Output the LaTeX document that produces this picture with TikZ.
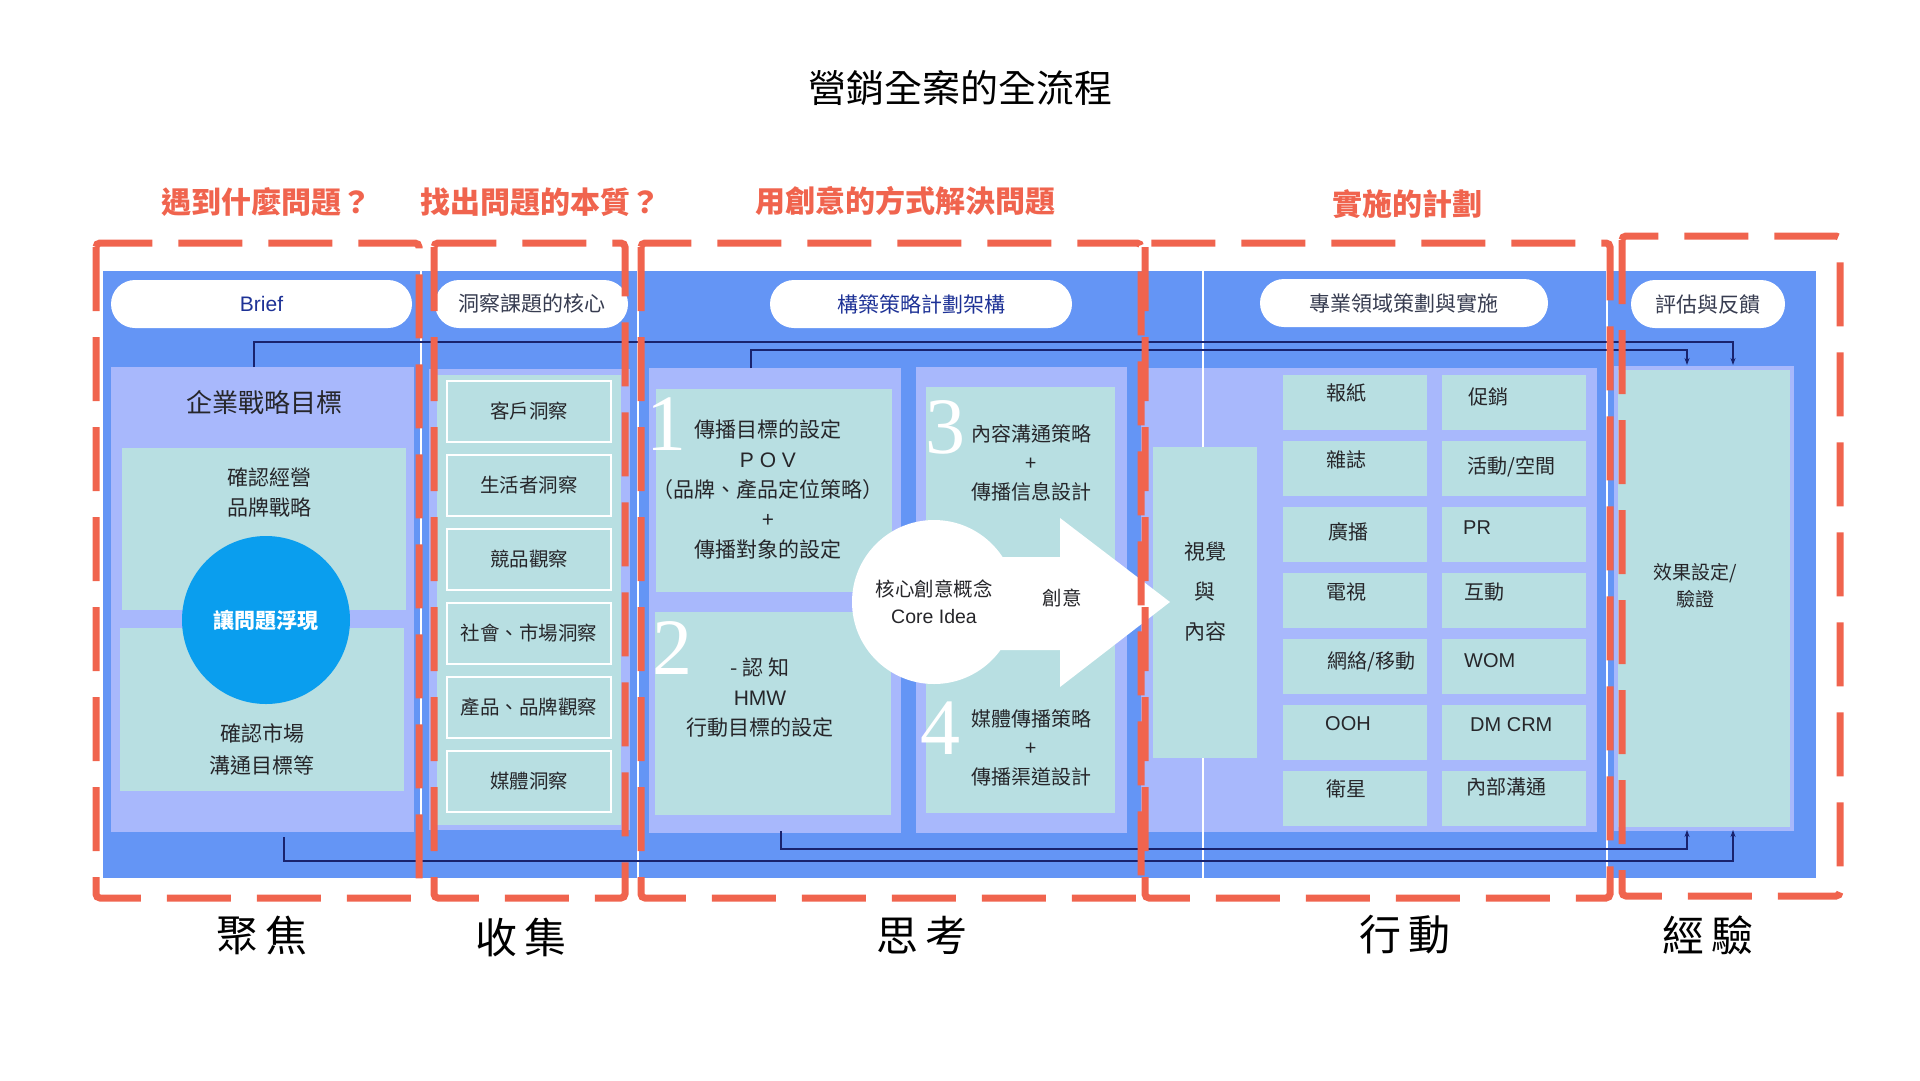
\documentclass[tikz,border=0pt]{standalone}
\usepackage{fontspec}
\setmainfont{Noto Sans CJK TC}
\newfontfamily\arialfont{Liberation Sans}
\newfontfamily\serifnum{Liberation Serif}
\usetikzlibrary{arrows.meta}

\definecolor{bgblue}{RGB}{100,149,245}
\definecolor{lav}{RGB}{168,184,252}
\definecolor{tealfill}{RGB}{184,223,226}
\definecolor{dotblue}{RGB}{10,158,238}
\definecolor{frred}{RGB}{240,100,78}
\definecolor{navy}{RGB}{25,35,110}
\definecolor{ink}{RGB}{38,38,42}
\definecolor{pillblue}{RGB}{30,50,150}
\definecolor{pillgray}{RGB}{55,60,80}

\tikzset{
  blk/.style={inner sep=0pt, outer sep=0pt, anchor=north west},
  panel/.style={blk, fill=lav},
  tealbox/.style={blk, fill=tealfill},
  insight/.style={tealbox, draw=white, line width=2pt, minimum width=164pt, minimum height=61pt,
    text=ink, font=\fontsize{19.5}{24}\selectfont},
  cell/.style={tealbox, minimum width=144pt, minimum height=55pt},
  pill/.style={fill=white, rounded corners=24pt, minimum height=48pt, inner sep=0pt,
    text=pillgray, font=\fontsize{21}{25}\selectfont},
  txt/.style={inner sep=0pt, text=ink, font=\fontsize{21}{30}\selectfont},
  celltxt/.style={txt, anchor=west, font=\fontsize{20}{24}\selectfont},
  bignum/.style={inner sep=0pt, text=white, font=\serifnum\fontsize{80}{80}\selectfont},
  heading/.style={inner sep=0pt, text=frred, font=\bfseries\fontsize{30}{34}\selectfont},
  stage/.style={inner sep=0pt, text=black, font=\fontsize{42}{46}\selectfont},
  redframe/.style={draw=frred, line width=7pt, dash pattern=on 64pt off 26pt, rounded corners=4pt},
  link/.style={draw=navy, line width=1.3pt, ->},
}

\begin{document}
\begin{tikzpicture}[x=1pt, y=-1pt, >={Stealth[length=7pt,width=5pt]}]
\useasboundingbox (0,0) rectangle (1920,1080);

% title
\node[inner sep=0pt, font=\fontsize{38}{42}\selectfont] (title) at (960,88) {營銷全案的全流程};

% blue ground
\fill[bgblue] (103,271) rectangle (1816,878);

% pills
\node[pill, minimum width=301pt, text=pillblue, font=\arialfont\fontsize{21}{25}\selectfont] (brief) at (261.5,304) {Brief};
\node[pill, minimum width=193pt] (pinsight) at (531.5,304) {洞察課題的核心};
\node[pill, minimum width=302pt, text=pillblue] (pframe) at (921,304) {構築策略計劃架構};
\node[pill, minimum width=288pt] (pexec) at (1404,303) {專業領域策劃與實施};
\node[pill, minimum width=154pt] (peval) at (1708,304) {評估與反饋};

% panels
\node[panel, minimum width=303pt, minimum height=465pt] (lav1) at (111,367) {};
\node[panel, minimum width=201pt, minimum height=461pt] (lav2) at (429,369) {};
\node[panel, minimum width=252pt, minimum height=465pt] (lav3a) at (649,368) {};
\node[panel, minimum width=211pt, minimum height=466pt] (lav3b) at (916,367) {};
\node[panel, minimum width=456pt, minimum height=464pt] (lav4) at (1141,368) {};

\foreach \sx in {421,638,1203,1607}
  \draw[white, line width=1.8pt] (\sx,271) -- (\sx,878);

% teal boxes
\node[tealbox, minimum width=284pt, minimum height=162pt] (goalA) at (122,448) {};
\node[tealbox, minimum width=284pt, minimum height=163pt] (goalB) at (120,628) {};
\node[tealbox, minimum width=184pt, minimum height=450pt] (lav2in) at (437,375) {};
\node[tealbox, minimum width=236pt, minimum height=203pt] (step1) at (656,389) {};
\node[tealbox, minimum width=236pt, minimum height=203pt] (step2) at (655,612) {};
\node[tealbox, minimum width=189pt, minimum height=426pt] (step34) at (926,387) {};
\node[tealbox, minimum width=104pt, minimum height=311pt] (visual) at (1153,447) {};
\node[tealbox, draw=lav, line width=4pt, minimum width=176pt, minimum height=461pt] (verify) at (1616,368) {};

% column 1
\node[txt, font=\fontsize{26}{30}\selectfont] (corp) at (264,403) {企業戰略目標};
\node[txt, align=center] (brand) at (269,493) {確認經營\\品牌戰略};
\node[txt, align=center, font=\fontsize{21}{32}\selectfont] (market) at (262,749) {確認市場\\溝通目標等};
\node[circle, fill=dotblue, minimum size=168pt, inner sep=0pt, text=white,
  font=\bfseries\fontsize{21}{25}\selectfont] (surface) at (266,620) {讓問題浮現};

% column 2
\foreach \t [count=\i from 0] in {客戶洞察,生活者洞察,競品觀察,社會、市場洞察,產品、品牌觀察,媒體洞察}
  \node[insight] (ins\i) at (447,381+74*\i) {\t};

% column 3
\node[bignum] (n1) at (666,424) {1};
\node[bignum] (n2) at (672,648) {2};
\node[bignum] (n3) at (945,427) {3};
\node[bignum] (n4) at (940,728) {4};
\node[txt, align=center] (t1) at (768,489) {傳播目標的設定\\{\arialfont P O V}\\（品牌、產品定位策略）\\+\\傳播對象的設定};
\node[txt, align=center] (t2) at (760,698) {- 認 知\\{\arialfont HMW}\\行動目標的設定};
\node[txt, align=center, font=\fontsize{20}{29}\selectfont] (t3) at (1031,463) {內容溝通策略\\+\\傳播信息設計};
\node[txt, align=center, font=\fontsize{20}{29}\selectfont] (t4) at (1031,748) {媒體傳播策略\\+\\傳播渠道設計};

\fill[white] (960,557) -- (1060,557) -- (1060,518) -- (1170,602) -- (1060,687) -- (1060,650) -- (960,650) -- cycle;
\node[circle, fill=white, minimum size=164pt, inner sep=0pt, align=center, text=ink,
  font=\fontsize{19.5}{27}\selectfont] (idea) at (934,602) {核心創意概念\\{\arialfont Core Idea}};
\node[txt, font=\fontsize{19.5}{24}\selectfont] (crea) at (1062,598) {創意};

% column 4
\node[txt, align=center, font=\fontsize{21}{40}\selectfont] (vtxt) at (1205,592) {視覺\\與\\內容};
\foreach \r in {0,...,6}{
  \node[cell] (ca\r) at (1283,375+66*\r) {};
  \node[cell] (cb\r) at (1442,375+66*\r) {};
}
\node[celltxt] (na0) at (1326,393) {報紙};
\node[celltxt] (na1) at (1326,460) {雜誌};
\node[celltxt] (na2) at (1328,532) {廣播};
\node[celltxt] (na3) at (1326,592) {電視};
\node[celltxt] (na4) at (1327,662) {網絡/移動};
\node[celltxt, font=\arialfont\fontsize{20}{24}\selectfont] (na5) at (1325,724) {OOH};
\node[celltxt] (na6) at (1326,789) {衛星};
\node[celltxt] (nb0) at (1468,397) {促銷};
\node[celltxt] (nb1) at (1467,467) {活動/空間};
\node[celltxt, font=\arialfont\fontsize{20}{24}\selectfont] (nb2) at (1463,528) {PR};
\node[celltxt] (nb3) at (1464,592) {互動};
\node[celltxt, font=\arialfont\fontsize{20}{24}\selectfont] (nb4) at (1464,661) {WOM};
\node[celltxt, font=\arialfont\fontsize{20}{24}\selectfont] (nb5) at (1470,725) {DM CRM};
\node[celltxt] (nb6) at (1466,787) {內部溝通};

% column 5
\node[txt, align=center, font=\fontsize{19}{27}\selectfont] (vt) at (1695,586) {效果設定/\\驗證};

% feedback lines
\coordinate (railA) at (0,342);
\coordinate (railB) at (0,350);
\coordinate (railC) at (0,861);
\coordinate (railD) at (0,849);
\coordinate (sA) at ([xshift=143pt]lav1.north west);
\coordinate (sB) at ([xshift=102pt]lav3a.north west);
\coordinate (sC) at ([xshift=173pt,yshift=-5pt]lav1.south west);
\coordinate (sD) at ([xshift=132pt,yshift=2pt]lav3a.south west);
\coordinate (eA) at ([xshift=117pt,yshift=3pt]verify.north west);
\coordinate (eB) at ([xshift=71pt,yshift=3pt]verify.north west);
\coordinate (eC) at ([xshift=117pt,yshift=-1pt]verify.south west);
\coordinate (eD) at ([xshift=71pt,yshift=-1pt]verify.south west);
\draw[link] (sA) -- (sA |- railA) -| (eA);
\draw[link] (sB) -- (sB |- railB) -| (eB);
\draw[link] (sC) -- (sC |- railC) -| (eC);
\draw[link] (sD) -- (sD |- railD) -| (eD);

% red frames
\draw[redframe] (96,243) rectangle (419,898);
\draw[redframe] (434,243) rectangle (625,898);
\draw[redframe] (641,243) rectangle (1141,898);
\draw[redframe] (1145,243) rectangle (1610,898);
\draw[redframe] (1622,236) rectangle (1840,896);

% headings
\node[heading] (q1) at (266,202) {遇到什麼問題？};
\node[heading] (q2) at (540,202) {找出問題的本質？};
\node[heading] (q3) at (905,201) {用創意的方式解決問題};
\node[heading] (q4) at (1407,204) {實施的計劃};

% stages
\node[stage] (s1) at (262,935) {聚\hspace{8pt}焦};
\node[stage] (s2) at (521,937) {收\hspace{8pt}集};
\node[stage] (s3) at (922,935) {思\hspace{8pt}考};
\node[stage] (s4) at (1405,935) {行\hspace{8pt}動};
\node[stage] (s5) at (1708,935) {經\hspace{8pt}驗};
\end{tikzpicture}
\end{document}
